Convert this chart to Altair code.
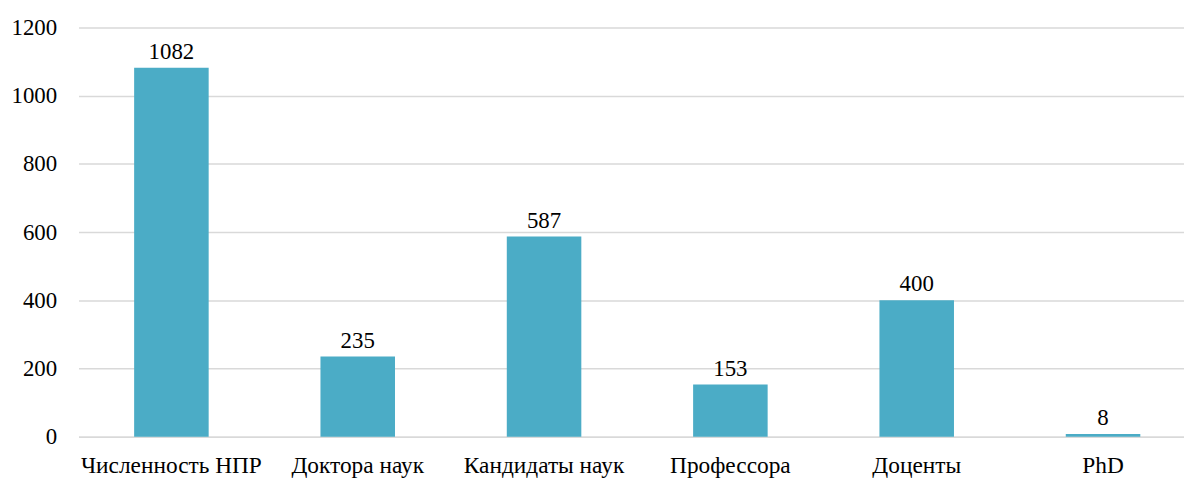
import altair as alt
import pandas as pd

categories = ["Численность НПР", "Доктора наук", "Кандидаты наук", "Профессора", "Доценты", "PhD"]
values = [1082, 235, 587, 153, 400, 8]

df = pd.DataFrame({"cat": categories, "val": values})

FONT = "'Liberation Serif', 'Times New Roman', serif"

x = alt.X("cat:N", sort=categories, title=None,
          scale=alt.Scale(paddingInner=0.6, paddingOuter=0.2665, align=0.56),
          axis=alt.Axis(labelAngle=0, labelFont=FONT, labelFontSize=23.5, labelColor="#000000",
                        labelLimit=0, labelOverlap=False,
                        ticks=False, labelPadding=17, domainColor="#D9D9D9", domainWidth=1.5,
                        grid=False))
y = alt.Y("val:Q", title=None,
          scale=alt.Scale(domain=[0, 1200], nice=False),
          axis=alt.Axis(values=[0, 200, 400, 600, 800, 1000, 1200], format="d", labelFont=FONT,
                        labelFontSize=23, labelColor="#000000", ticks=False, labelPadding=22,
                        domain=False, gridColor="#D9D9D9", gridWidth=1.5))

bars = alt.Chart(df).mark_bar(color="#4BACC6").encode(x=x, y=y)
labels = alt.Chart(df).mark_text(font=FONT, fontSize=23, color="#000000",
                                 baseline="alphabetic", dy=-9).encode(
    x=alt.X("cat:N", sort=categories), y="val:Q", text="val:Q")

chart = alt.layer(bars, labels).properties(
    width=1113, height=412,
    autosize=alt.AutoSizeParams(type="none"),
    padding={"left": 71, "top": 18, "right": 0, "bottom": 40},
).configure_view(stroke=None)

chart.save("out.html", embed_options={"renderer": "svg", "actions": False})
